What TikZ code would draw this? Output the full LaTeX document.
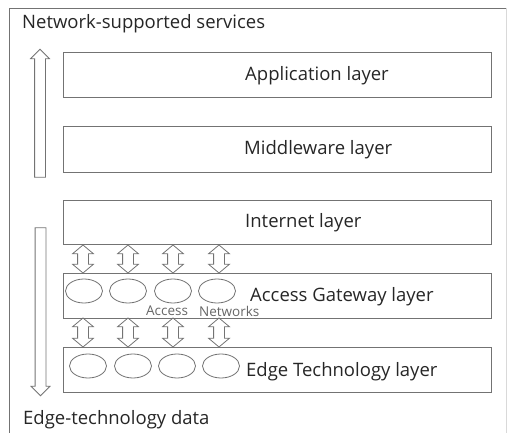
\documentclass[tikz,border=0pt]{standalone}
\usepackage{fontspec}
\setmainfont{Open Sans}
\usetikzlibrary{shapes.geometric, shapes.arrows}
\tikzset{
  layer/.style={draw=black!55, line width=0.9pt, minimum width=428pt, inner sep=0pt},
  lbl/.style={anchor=west, inner sep=0pt, text=black!85, font=\fontsize{18.5}{22}\selectfont},
  small/.style={anchor=west, inner sep=0pt, text=black!60, font=\fontsize{13.5}{16}\selectfont},
  net/.style={ellipse, draw=black!55, line width=0.8pt, minimum width=37pt, minimum height=24pt, inner sep=0pt},
  link/.style={double arrow, draw=black!55, line width=0.8pt, rotate=90, inner sep=5pt,
    double arrow head extend=5pt, double arrow tip angle=100},
  flow/.style={single arrow, draw=black!55, line width=0.8pt, inner sep=5pt,
    single arrow head extend=4pt, single arrow tip angle=90}
}

\begin{document}
\begin{tikzpicture}[x=1pt, y=-1pt]
\useasboundingbox (0,0) rectangle (507,433);
% frame
\draw[black!55, line width=0.8pt] (9,433) -- (9,8) -- (507,8);
\draw[black!15] (506,8) -- (506,433);
\node[lbl] (top) at (22,24) {Network-supported services};
\node[lbl] (bottom) at (23,420) {Edge-technology data};

% layers
\node[layer, minimum height=45pt] (app) at (277,74.5) {};
\node[layer, minimum height=46pt] (mid) at (277,149) {};
\node[layer, minimum height=44pt] (inet) at (277,222) {};
\node[layer, minimum height=45pt] (agw) at (277,295.5) {};
\node[layer, minimum height=45pt] (edge) at (277,369.5) {};
\node[lbl] (applbl) at (245,76) {Application layer};
\node[lbl] (midlbl) at (244,150) {Middleware layer};
\node[lbl] (inetlbl) at (245,223) {Internet layer};
\node[lbl] (agwlbl) at (250,297) {Access Gateway layer};
\node[lbl] (edgelbl) at (246,372) {Edge Technology layer};

% access networks
\foreach \x [count=\i] in {84,128,173,217}
  \node[net] (a\i) at (\x,291) {};
\foreach \x [count=\i] in {88,133,177,221}
  \node[net] (e\i) at (\x,366) {};
\node[small] (acc) at (146,311) {Access};
\node[small] (nets) at (199,311) {Networks};

% links between layers
\foreach \x [count=\i] in {83,128,173,219} {
  \node[link, minimum height=28pt] (u\i) at (\x,259) {};
  \node[link, minimum height=29pt] (d\i) at (\x,332.5) {};
}

% data flow
\node[flow, rotate=90, minimum height=128pt] (up) at (40,116) {};
\node[flow, rotate=-90, minimum height=168pt] (down) at (40.5,309) {};
\end{tikzpicture}
\end{document}
